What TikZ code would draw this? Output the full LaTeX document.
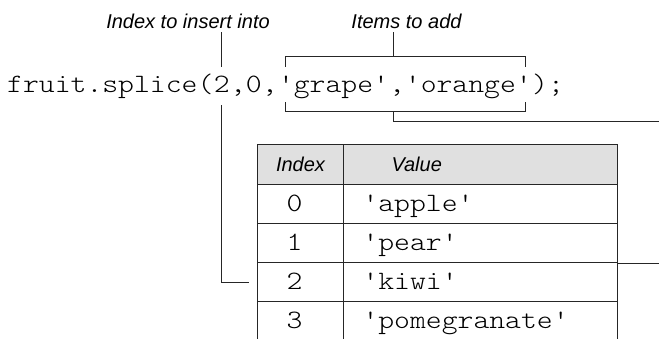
\documentclass[tikz,border=0pt]{standalone}
\usepackage{fontspec}
\newfontfamily\lblfont{Liberation Sans}
\newfontfamily\codefont{lmmonolt10-regular.otf}[FakeStretch=1.14]
\usetikzlibrary{calc}

\tikzset{
  conn/.style={draw=black!85, line width=1pt},
  lbl/.style={font=\lblfont\itshape\fontsize{20}{24}\selectfont, inner sep=4pt, anchor=base},
  code/.style={font=\codefont\fontsize{26.5}{30}\selectfont, inner xsep=0pt, inner ysep=8pt,
    anchor=base west, text height=17pt, text depth=0pt},
  cell/.style={draw=black!85, line width=1pt, anchor=north west, minimum height=39pt,
    inner ysep=0pt, text height=15pt, text depth=0pt, align=left,
    font=\codefont\fontsize{26.5}{30}\selectfont},
  headcell/.style={cell, fill=black!12, minimum height=40pt, text height=14.3pt,
    font=\lblfont\itshape\fontsize{20}{24}\selectfont},
}

\begin{document}
\begin{tikzpicture}[x=1pt, y=-1pt]
  \useasboundingbox (0,0) rectangle (659,338);

  % labels
  \node[lbl] (lblIndex) at (188,28) {Index to insert into};
  \node[lbl] (lblItems) at (406.5,28) {Items to add};

  % the call
  \node[code] (c1) at (7,92) {fruit.splice(};
  \node[code, text depth=5pt] (idx) at (c1.base east) {2};
  \node[code] (c3) at (idx.base east) {,0,};
  \node[code, text depth=2pt] (items) at (c3.base east) {'grape','orange'};
  \node[code] (c5) at (items.base east) {);};

  % table
  \node[headcell, inner xsep=0pt, minimum width=86pt, align=center] (hidx) at (257,144) {Index};
  \node[headcell, inner xsep=48pt, text width=178pt] (hval) at (343,144) {Value};
  \foreach \n/\v [count=\r from 0] in {0/'apple', 1/'pear', 2/'kiwi', 3/'pomegranate'} {
    \node[cell, inner xsep=29pt, text width=28pt] (i\n) at (257,{184+39*\r}) {\n};
    \node[cell, inner xsep=19pt, text width=236pt] (v\n) at (343,{184+39*\r}) {\v};
  }

  % connectors
  \coordinate (brTop) at ($(items.north west)+(115.7,-10)$);
  \coordinate (brBot) at ($(items.south west)+(115.7,9)$);
  \coordinate (outA) at (659,121);
  \coordinate (outB) at (659,262);
  \draw[conn] (lblIndex.south -| idx.north) -- (idx.north);
  \draw[conn] (idx.south) |- ($(i2.west)+(-8,0)$);
  \draw[conn] (lblItems.south -| brTop) -- (brTop);
  \draw[conn] ($(items.north west)+(8,0)$) -- ++(0,-10) -| ($(items.north east)+(-6,0)$);
  \draw[conn] ($(items.south west)+(8,0)$) -- ++(0,9) -| ($(items.south east)+(-6,0)$);
  \draw[conn] (brBot) |- (outA);
  \draw[conn] (v1.south east) -- (v1.south east -| outB);
\end{tikzpicture}
\end{document}
